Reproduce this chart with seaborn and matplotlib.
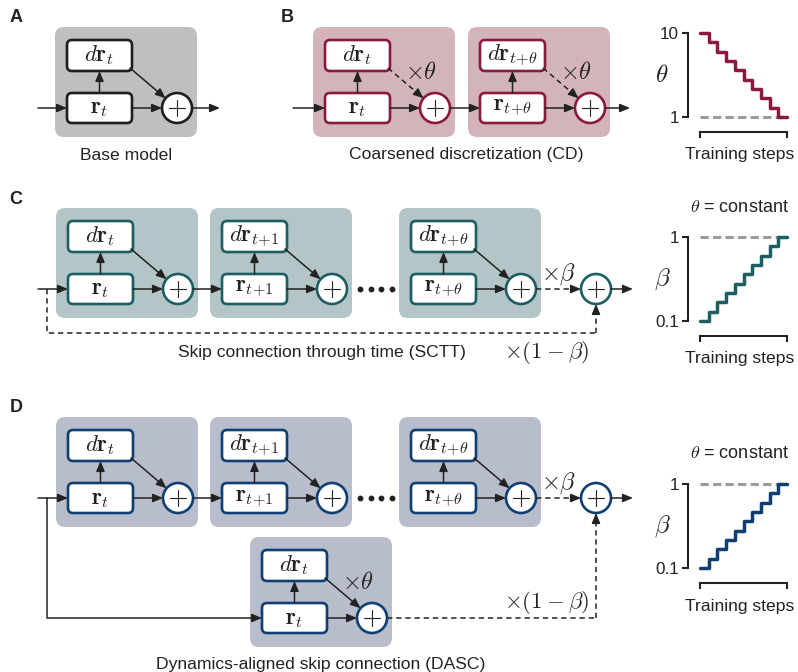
import matplotlib
matplotlib.use("Agg")
import matplotlib.pyplot as plt
import numpy as np
import seaborn as sns
from matplotlib.patches import Circle, FancyBboxPatch

W, H = 798, 672

# Curvas escalonadas (nivel por tramo de entrenamiento)
PASOS = list(range(11))
THETA = [10, 9, 8, 7, 6, 5, 4, 3, 2, 1, 1]
BETA = [0.1, 0.2, 0.3, 0.4, 0.5, 0.6, 0.7, 0.8, 0.9, 1.0, 1.0]
TICKS_THETA, ROT_THETA = [1, 10], ["1", "10"]
TICKS_BETA, ROT_BETA = [0.1, 1.0], ["0.1", "1"]

# Subindices de cada bloque
SUB_B = ["t", r"t\!+\!\theta"]
SUB_CD = ["t", r"t\!+\!1", r"t\!+\!\theta"]

LETRAS = ["A", "B", "C", "D"]
PIES = ["Base model", "Coarsened discretization (CD)",
        "Skip connection through time (SCTT)",
        "Dynamics-aligned skip connection (DASC)"]

# colores (fondo, borde)
GRIS = ("#bfbfbf", "#1e1e1e")
ROJO = ("#d3b5b9", "#8a1a3d")
VERDE = ("#b3c5c7", "#1d5e62")
AZUL = ("#b8bdcb", "#0f3f72")
TINTA = "#222222"
FS = 12.6

sns.set_theme(style="white")
plt.rcParams["font.family"] = ["Liberation Sans", "DejaVu Sans"]
plt.rcParams["mathtext.fontset"] = "cm"


def flecha(ax, x0, y0, x1, y1, dashed=False):
    if dashed:
        d = np.hypot(x1 - x0, y1 - y0)
        ux, uy = (x1 - x0) / d, (y1 - y0) / d
        ax.plot([x0, x1 - 6 * ux], [y0, y1 - 6 * uy], color=TINTA, lw=1.1,
                ls=(0, (3.5, 2.5)), zorder=4)
        x0, y0 = x1 - 8 * ux, y1 - 8 * uy
    ax.annotate("", xy=(x1, y1), xytext=(x0, y0), zorder=4,
                arrowprops=dict(arrowstyle="-|>,head_length=0.6,head_width=0.25",
                                color=TINTA, lw=1.1, shrinkA=0, shrinkB=0,
                                mutation_scale=10))


def caja(ax, x, y, w, h, borde, texto):
    ax.add_patch(FancyBboxPatch((x, y), w, h, boxstyle="round,pad=0,rounding_size=5",
                                fc="white", ec=borde, lw=1.9, zorder=3))
    ax.text(x + w / 2, y + h / 2, texto, ha="center", va="center", fontsize=16.5,
            color=TINTA, zorder=5)


def suma(ax, cx, cy, borde):
    ax.add_patch(Circle((cx, cy), 15, fc="white", ec=borde, lw=1.9, zorder=3))
    ax.plot([cx - 8, cx + 8], [cy, cy], color=TINTA, lw=0.8, zorder=5)
    ax.plot([cx, cx], [cy - 8, cy + 8], color=TINTA, lw=0.8, zorder=5)


def modulo(ax, left, top, sub, colores, punteado=False, factor=None):
    fondo, borde = colores
    ax.add_patch(FancyBboxPatch((left, top), 142, 110, boxstyle="round,pad=0,rounding_size=9",
                                fc=fondo, ec="none", zorder=1))
    bx = left + 12
    caja(ax, bx, top + 13, 65, 31, borde, rf"$d\mathbf{{r}}_{{{sub}}}$")
    caja(ax, bx, top + 66, 65, 30, borde, rf"$\mathbf{{r}}_{{{sub}}}$")
    cx, cy = left + 122, top + 81
    suma(ax, cx, cy, borde)
    flecha(ax, bx + 32.5, top + 66, bx + 32.5, top + 44)
    sx, sy = bx + 63, top + 41
    d = np.hypot(cx - sx, cy - sy)
    flecha(ax, sx, sy, cx - 15 * (cx - sx) / d, cy - 15 * (cy - sy) / d, dashed=punteado)
    flecha(ax, bx + 65, cy, cx - 15, cy)
    if factor:
        ax.text(left + 108, top + 46, factor, ha="center", va="center", fontsize=17.5, color=TINTA)
    return bx, cx, cy


def escalera(fig, top, niveles, color, etiqueta, ticks, rotulos, titulo=None):
    ax = fig.add_axes([700 / W, 1 - (top + 84) / H, 87 / W, 84 / H])
    ax.axhline(niveles[-1], color="#9a9a9a", lw=2.2, ls=(0, (2.7, 1.4)), zorder=1, clip_on=False)
    sns.lineplot(x=PASOS, y=niveles, ax=ax, color=color, lw=2.5, drawstyle="steps-post",
                 estimator=None, clip_on=False, zorder=2)
    ax.set_xlim(PASOS[0], PASOS[-1])
    ax.set_ylim(min(ticks), max(ticks))
    ax.set_xticks([PASOS[0], PASOS[-1]])
    ax.set_xticklabels([])
    ax.set_yticks(ticks)
    ax.set_yticklabels(rotulos)
    sns.despine(ax=ax, offset={"left": 9, "bottom": 11}, trim=True)
    for s in ("left", "bottom"):
        ax.spines[s].set_color(TINTA)
        ax.spines[s].set_linewidth(1.5)
    ax.tick_params(length=4, width=1.5, color=TINTA, labelsize=12.3, pad=2,
                   labelcolor=TINTA, left=True, bottom=True)
    ax.set_ylabel(etiqueta, rotation=0, fontsize=18, color=TINTA, va="center", ha="center")
    ax.yaxis.set_label_coords((662 - 700) / 87, 0.5)
    ax.set_xlabel("Training steps", fontsize=FS, color=TINTA, va="center")
    ax.xaxis.set_label_coords((740 - 700) / 87, -38 / 84)
    if titulo:
        ax.text((739 - 700) / 87, 1 + 30 / 84, titulo, transform=ax.transAxes,
                ha="center", va="center", fontsize=13, color=TINTA)
    ax.set_facecolor("none")
    return ax


fig = plt.figure(figsize=(W / 100, H / 100), dpi=100)
ax = fig.add_axes([0, 0, 1, 1])
ax.set_xlim(0, W)
ax.set_ylim(H, 0)
ax.axis("off")

# letras de panel
for letra, (x, y) in zip(LETRAS, [(16, 17), (287, 17), (16, 199), (16, 408)]):
    ax.text(x, y, letra, ha="center", va="center", fontsize=13, fontweight="bold", color=TINTA)

# A
bx, cx, cy = modulo(ax, 55, 27, "t", GRIS)
flecha(ax, 38, cy, bx, cy)
flecha(ax, cx + 15, cy, cx + 43, cy)
ax.text(126, 155, PIES[0], ha="center", va="center", fontsize=FS, color=TINTA)

# B
prev = None
for left, sub in zip([313, 468], SUB_B):
    bx, cx, cy = modulo(ax, left, 27, sub, ROJO, punteado=True, factor=r"$\times\theta$")
    flecha(ax, 293 if prev is None else prev, cy, bx, cy)
    prev = cx + 15
flecha(ax, prev, cy, prev + 25, cy)
ax.text(466, 155, PIES[1], ha="center", va="center", fontsize=FS, color=TINTA)


def cadena(top, colores):
    prev = None
    for i, (left, sub) in enumerate(zip([56, 210, 399], SUB_CD)):
        bx, cx, cy = modulo(ax, left, top, sub, colores)
        if prev is None:
            flecha(ax, 38, cy, bx, cy)
        elif i == 1:
            flecha(ax, prev, cy, bx, cy)
        prev = cx + 15
        if i == 1:
            ax.plot([360, 370.5, 381, 391.5], [cy] * 4, "o", color=TINTA, ms=3.2, zorder=4)
    fx = 596
    flecha(ax, prev, cy, fx - 15, cy, dashed=True)
    ax.text(559, cy - 15, r"$\times\beta$", ha="center", va="center", fontsize=17.5, color=TINTA)
    suma(ax, fx, cy, colores[1])
    flecha(ax, fx + 15, cy, fx + 37, cy)
    return cy, fx


# C
cy, fx = cadena(208, VERDE)
ax.plot([47, 47, fx], [cy, 333, 333], color=TINTA, lw=1.1, ls=(0, (3.5, 2.5)), zorder=2)
flecha(ax, fx, 333, fx, cy + 15, dashed=True)
ax.text(547, 352, r"$\times(1-\beta)$", ha="center", va="center", fontsize=16.5, color=TINTA)
ax.text(322, 352, PIES[2], ha="center", va="center", fontsize=FS, color=TINTA)

# D
cy, fx = cadena(417, AZUL)
bx, cx2, cy2 = modulo(ax, 250, 537, "t", AZUL, factor=r"$\times\theta$")
ax.plot([47, 47, bx - 8], [cy, cy2, cy2], color=TINTA, lw=1.1, zorder=2)
flecha(ax, bx - 10, cy2, bx, cy2)
ax.plot([cx2 + 15, fx], [cy2, cy2], color=TINTA, lw=1.1, ls=(0, (3.5, 2.5)), zorder=2)
flecha(ax, fx, cy2, fx, cy + 15, dashed=True)
ax.text(547, 602, r"$\times(1-\beta)$", ha="center", va="center", fontsize=16.5, color=TINTA)
ax.text(321, 664, PIES[3], ha="center", va="center", fontsize=FS, color=TINTA)

# curvas de la derecha
escalera(fig, 33, THETA, "#8a1a3d", r"$\theta$", TICKS_THETA, ROT_THETA)
escalera(fig, 237, BETA, "#1d5e62", r"$\beta$", TICKS_BETA, ROT_BETA, titulo=r"$\theta$ = constant")
escalera(fig, 484, BETA, "#0f3f72", r"$\beta$", TICKS_BETA, ROT_BETA, titulo=r"$\theta$ = constant")

fig.savefig("out.png", dpi=100)
